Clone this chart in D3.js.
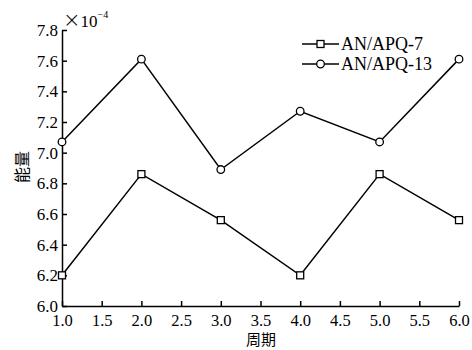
<!DOCTYPE html>
<html>
<head>
<meta charset="utf-8">
<style>
  body { margin: 0; background: #fff; }
  .axis path, .axis line { stroke: #000; stroke-width: 1.5; }
</style>
</head>
<body>
<script src="https://cdn.jsdelivr.net/npm/d3@7"></script>
<script>
const periods = [1, 2, 3, 4, 5, 6];
const apq7 = [6.20, 6.86, 6.56, 6.20, 6.86, 6.56];
const apq13 = [7.07, 7.61, 6.89, 7.27, 7.07, 7.61];
const seriesNames = ["AN/APQ-7", "AN/APQ-13"];
const xTicks = [1.0, 1.5, 2.0, 2.5, 3.0, 3.5, 4.0, 4.5, 5.0, 5.5, 6.0];
const yTicks = [6.0, 6.2, 6.4, 6.6, 6.8, 7.0, 7.2, 7.4, 7.6, 7.8];

const serif = "'Liberation Serif', 'Times New Roman', Tinos, 'DejaVu Serif', serif";
const cjk = "'Noto Sans CJK SC', sans-serif";

const w = 472, h = 350;
const padLeft = 62, padRight = 459, padTop = 30, padBottom = 306;

const svg = d3.select("body").append("svg").attr("width", w).attr("height", h);

const x = d3.scaleLinear().domain([1, 6]).range([padLeft, padRight]);
const y = d3.scaleLinear().domain([6.0, 7.8]).range([padBottom, padTop]);

const xg = svg.append("g").attr("class", "axis")
  .attr("transform", `translate(0,${padBottom})`)
  .call(d3.axisBottom(x).tickValues(xTicks).tickFormat(d3.format(".1f")).tickSizeInner(-5).tickSizeOuter(0).tickPadding(8));
xg.attr("font-family", null).attr("font-size", null);
xg.selectAll("text").style("font-family", serif).style("font-size", "16.5px").attr("fill", "#000");

const yg = svg.append("g").attr("class", "axis")
  .attr("transform", `translate(${padLeft},0)`)
  .call(d3.axisLeft(y).tickValues(yTicks).tickFormat(d3.format(".1f")).tickSizeInner(-5).tickSizeOuter(0).tickPadding(4));
yg.attr("font-family", null).attr("font-size", null);
yg.selectAll("text").style("font-family", serif).style("font-size", "17px").attr("fill", "#000");

// exponent label
const ex = svg.append("text").attr("x", padLeft + 1).attr("y", 27)
  .style("font-family", serif).style("font-size", "17px").attr("fill", "#000");
ex.append("tspan").style("font-family", "'DejaVu Sans'").style("font-size", "21px").style("font-weight", "200").text("×");
ex.append("tspan").text("10");
ex.append("tspan").style("font-size", "10px").attr("dy", -9).text("−4");

// axis titles
svg.append("text").attr("x", 261).attr("y", 345)
  .attr("text-anchor", "middle").style("font-size", "15px")
  .style("font-family", cjk).attr("fill", "#000").text("周期");
svg.append("text").attr("transform", `translate(28,167) rotate(-90)`)
  .attr("text-anchor", "middle").style("font-size", "16px")
  .style("font-family", cjk).attr("fill", "#000").text("能量");

const line = d3.line().x((d, i) => x(periods[i])).y(d => y(d));

const series = [
  { name: seriesNames[0], values: apq7, marker: "square" },
  { name: seriesNames[1], values: apq13, marker: "circle" }
];

function drawMarker(g, type, cx, cy) {
  if (type === "square") {
    g.append("rect").attr("x", cx - 3.5).attr("y", cy - 3.5).attr("width", 7).attr("height", 7)
      .attr("fill", "#fff").attr("stroke", "#000").attr("stroke-width", 1.3);
  } else {
    g.append("circle").attr("cx", cx).attr("cy", cy).attr("r", 3.8)
      .attr("fill", "#fff").attr("stroke", "#000").attr("stroke-width", 1.3);
  }
}

series.forEach(s => {
  svg.append("path").datum(s.values).attr("d", line)
    .attr("fill", "none").attr("stroke", "#000").attr("stroke-width", 1.5);
  const g = svg.append("g");
  s.values.forEach((v, i) => drawMarker(g, s.marker, x(periods[i]), y(v)));
});

// legend
series.forEach((s, i) => {
  const ly = 44 + i * 20;
  const g = svg.append("g");
  g.append("line").attr("x1", 302).attr("x2", 339).attr("y1", ly).attr("y2", ly)
    .attr("stroke", "#000").attr("stroke-width", 1.5);
  drawMarker(g, s.marker, 320.5, ly);
  g.append("text").attr("x", 341).attr("y", ly + 6).style("font-size", "18px")
    .style("font-family", serif).attr("fill", "#000").text(s.name);
});
</script>
</body>
</html>
